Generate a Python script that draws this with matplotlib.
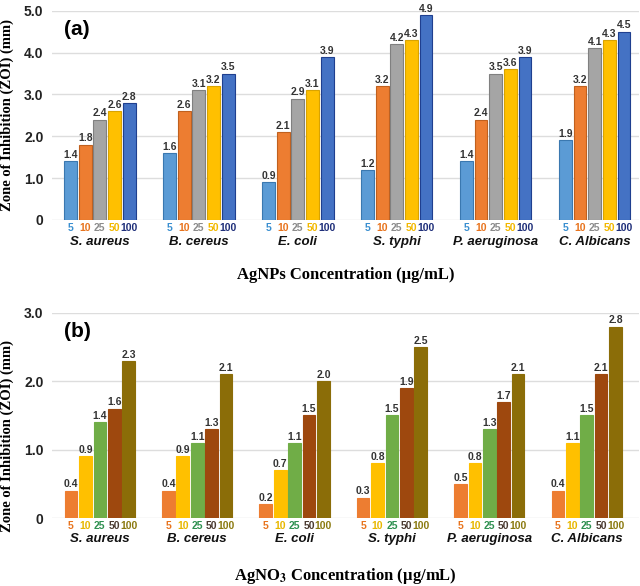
import matplotlib.pyplot as plt
from matplotlib import transforms

plt.rcParams["mathtext.fontset"] = "stix"

organisms = ["S. aureus", "B. cereus", "E. coli", "S. typhi", "P. aeruginosa", "C. Albicans"]
conc = ["5", "10", "25", "50", "100"]

# Zone of inhibition (mm), rows = concentration, cols = organism
agnps = [
    [1.4, 1.6, 0.9, 1.2, 1.4, 1.9],
    [1.8, 2.6, 2.1, 3.2, 2.4, 3.2],
    [2.4, 3.1, 2.9, 4.2, 3.5, 4.1],
    [2.6, 3.2, 3.1, 4.3, 3.6, 4.3],
    [2.8, 3.5, 3.9, 4.9, 3.9, 4.5],
]
agno3 = [
    [0.4, 0.4, 0.2, 0.3, 0.5, 0.4],
    [0.9, 0.9, 0.7, 0.8, 0.8, 1.1],
    [1.4, 1.1, 1.1, 1.5, 1.3, 1.5],
    [1.6, 1.3, 1.5, 1.9, 1.7, 2.1],
    [2.3, 2.1, 2.0, 2.5, 2.1, 2.8],
]

colors_a = ["#5B9BD5", "#ED7D31", "#A5A5A5", "#FFC000", "#4472C4"]
edges_a = ["#3A78B0", "#C0601E", "#808080", "#D9A300", "#1F3F8F"]
tick_cols_a = ["#3A8FD0", "#E8741E", "#8C8C8C", "#F2B800", "#1F2F7A"]
colors_b = ["#ED7D31", "#FFC000", "#70AD47", "#9E480E", "#8B6D08"]
tick_cols_b = ["#E8741E", "#E8B800", "#2E9050", "#4A3A30", "#8B7A10"]

SANS = "Liberation Sans"
SERIF = "Liberation Serif"


def draw_panel(ax, data, ymax, yticks, ytlabels, colors, edges, tick_cols,
               xlim, tag, xlabel, ylab_y):
    width = 0.13
    step = 0.148
    tick_pos, tick_lab, tick_c = [], [], []
    for k, vals in enumerate(data):
        xs = [i + (k - 2) * step for i in range(len(organisms))]
        ax.bar(xs, vals, width=width, color=colors[k],
               edgecolor=edges[k] if edges else colors[k], linewidth=0.8, zorder=3)
        for x, v in zip(xs, vals):
            ax.text(x, v + ymax * 0.006, f"{v:.1f}", ha="center", va="bottom",
                    fontsize=7.5, fontweight="bold", color="#333333", family=SANS)
        tick_pos += xs
        tick_lab += [conc[k]] * len(xs)
        tick_c += [tick_cols[k]] * len(xs)
    ax.set_xticks(tick_pos)
    ax.set_xticklabels(tick_lab, fontsize=7.5, fontweight="bold", family=SANS)
    for lab, c in zip(ax.get_xticklabels(), tick_c):
        lab.set_color(c)
    ax.tick_params(axis="x", length=0, pad=2)
    ax.tick_params(axis="y", length=0, pad=6)
    ax.set_xlim(*xlim)
    ax.set_ylim(0, ymax)
    ax.set_yticks(yticks)
    ax.set_yticklabels(ytlabels, fontsize=10, fontweight="bold", color="#222222",
                       family=SANS)
    ax.grid(axis="y", color="#DDDDDD", linewidth=1, zorder=0)
    for s in ax.spines.values():
        s.set_visible(False)
    trans = transforms.blended_transform_factory(ax.transData, ax.transAxes)
    for i, name in enumerate(organisms):
        ax.text(i, -0.075, name, transform=trans, ha="center", va="top",
                fontsize=9.5, fontstyle="italic", fontweight="bold", color="#111111",
                family=SANS)
    ax.text(0.02, 0.91, tag, transform=ax.transAxes, fontsize=15,
            fontweight="bold", va="center", family=SANS)
    ax.set_ylabel("Zone of Inhibition (ZOI) (mm)", family=SERIF,
                  fontsize=10.5, fontweight="bold")
    ax.yaxis.set_label_coords(-0.064, ylab_y)
    ax.set_xlabel(xlabel, family=SERIF, fontsize=12,
                  fontweight="bold", labelpad=25)


fig = plt.figure(figsize=(6.4, 5.86), dpi=100)
ax1 = fig.add_axes([0.081, 0.6246, 0.917, 0.357])
ax2 = fig.add_axes([0.081, 0.116, 0.917, 0.350])

draw_panel(ax1, agnps, 5.0, [0, 1, 2, 3, 4, 5],
           ["0", "1.0", "2.0", "3.0", "4.0", "5.0"],
           colors_a, edges_a, tick_cols_a, (-0.485, 5.445), "(a)",
           "AgNPs Concentration (µg/mL)", 0.5)
draw_panel(ax2, agno3, 3.0, [0, 1, 2, 3],
           ["0", "1.0", "2.0", "3.0"],
           colors_b, None, tick_cols_b, (-0.493, 5.534), "(b)",
           r"AgNO$_\mathbf{3}$ Concentration (µg/mL)", 0.4)

fig.savefig("out.png", dpi=100)
